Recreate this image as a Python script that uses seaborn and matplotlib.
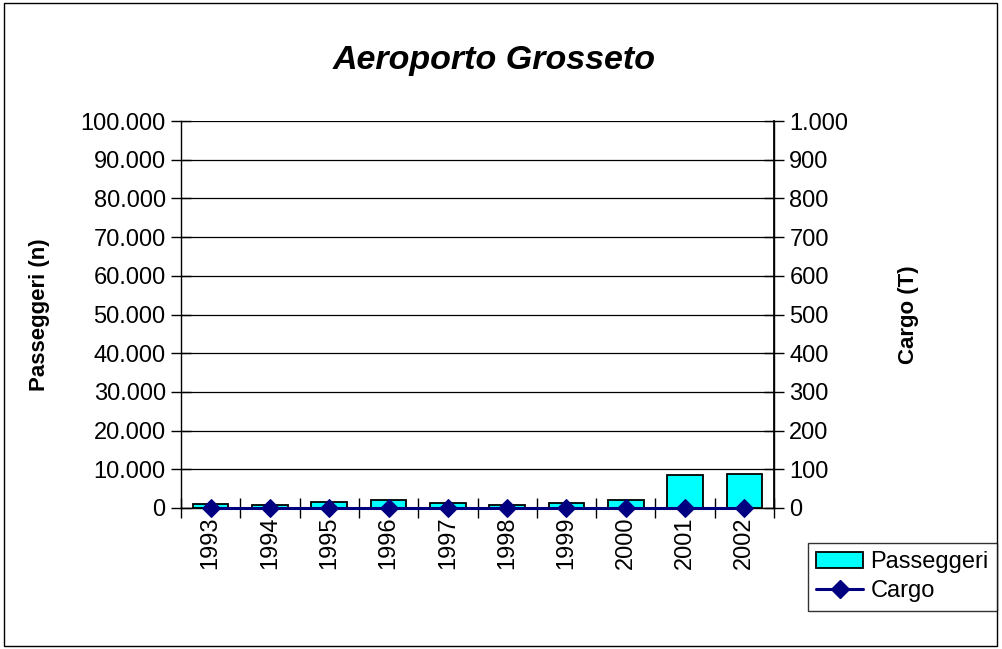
import matplotlib
matplotlib.use("Agg")
import matplotlib.pyplot as plt
import seaborn as sns
import pandas as pd
from matplotlib.ticker import FixedLocator, FuncFormatter
from matplotlib.patches import Rectangle, Patch
from matplotlib.lines import Line2D

years = ["1993", "1994", "1995", "1996", "1997", "1998", "1999", "2000", "2001", "2002"]
passeggeri = [950, 800, 1650, 2000, 1200, 700, 1200, 2000, 8450, 8800]
cargo = [0, 0, 0, 0, 0, 0, 0, 0, 0, 0]
left_ticks = list(range(0, 100001, 10000))
right_ticks = list(range(0, 1001, 100))

sns.set_theme(style="white")
plt.rcParams["font.family"] = ["Liberation Sans", "DejaVu Sans"]
plt.rcParams["text.color"] = "black"
plt.rcParams["axes.labelcolor"] = "black"
plt.rcParams["xtick.color"] = "black"
plt.rcParams["ytick.color"] = "black"

df = pd.DataFrame({"Anno": years, "Passeggeri": passeggeri, "Cargo": cargo})

W, H = 1002, 649
fig = plt.figure(figsize=(W / 100, H / 100), dpi=100)
fig.patch.set_facecolor("white")
fig.patches.append(Rectangle((4 / W, 1 - 646 / H), 993 / W, 643 / H, transform=fig.transFigure,
                             fill=False, edgecolor="black", linewidth=1.0))

ax = fig.add_axes([181 / W, 1 - 508 / H, (774 - 181) / W, (508 - 121) / H])
sns.barplot(data=df, x="Anno", y="Passeggeri", ax=ax, color="#00FFFF", saturation=1,
            edgecolor="black", linewidth=1.3, width=0.6, zorder=3)
ax.set_ylim(0, 100000)
ax.set_xlim(-0.5, len(years) - 0.5)
ax.yaxis.set_major_locator(FixedLocator(left_ticks))
ax.yaxis.set_major_formatter(FuncFormatter(lambda v, p: f"{v:,.0f}".replace(",", ".")))
ax.grid(axis="y", color="black", linewidth=0.9)
ax.grid(axis="x", visible=False)
ax.set_axisbelow(True)
ax.spines["top"].set_visible(False)
for s in ["left", "right", "bottom"]:
    ax.spines[s].set_color("black")
    ax.spines[s].set_linewidth(1.0)
ax.tick_params(axis="y", which="major", direction="inout", length=14, width=1, colors="black",
               labelsize=17, pad=4, left=True)
ax.tick_params(axis="x", which="major", length=0, labelsize=17, labelrotation=90, pad=6,
               labelcolor="black")
ax.set_xticks(range(len(years)))
ax.set_xticks([i - 0.5 for i in range(len(years) + 1)], minor=True)
ax.tick_params(axis="x", which="minor", direction="inout", length=14, width=1, color="black", bottom=True)
ax.set_xlabel("")
ax.set_ylabel("Passeggeri (n)", fontsize=16, fontweight="bold", color="black")
ax.yaxis.set_label_coords(-(181 - 50) / 593, 0.5)

ax2 = ax.twinx()
sns.lineplot(data=df, x="Anno", y="Cargo", ax=ax2, color="#000080", linewidth=2.2,
             marker="D", markersize=9, markeredgecolor="#000080", sort=False, zorder=5)
for ln in ax2.lines:
    ln.set_clip_on(False)
ax2.set_ylim(0, 1000)
ax2.yaxis.set_major_locator(FixedLocator(right_ticks))
ax2.yaxis.set_major_formatter(FuncFormatter(lambda v, p: f"{v:,.0f}".replace(",", ".")))
ax2.tick_params(axis="y", which="major", direction="inout", length=14, width=1, colors="black",
                labelsize=17, pad=4, right=True)
ax2.grid(False)
for s in ["top", "left", "bottom"]:
    ax2.spines[s].set_visible(False)
ax2.spines["right"].set_color("black")
ax2.set_ylabel("Cargo (T)", fontsize=16, fontweight="bold", color="black")
ax2.yaxis.set_label_coords(1 + (898 - 774) / 593, 0.5)
ax2.set_xlim(-0.5, len(years) - 0.5)

fig.text(494 / W, 1 - 60 / H, "Aeroporto Grosseto", ha="center", va="center",
         fontsize=24.5, fontstyle="italic", fontweight="bold", color="black")

handles = [Patch(facecolor="#00FFFF", edgecolor="black", linewidth=1.3),
           Line2D([0], [0], color="#000080", linewidth=2.2, marker="D", markersize=9)]
leg = fig.legend(handles, ["Passeggeri", "Cargo"], loc="upper left",
                 bbox_to_anchor=(808 / W, 1 - 543 / H), fontsize=17, frameon=True,
                 fancybox=False, edgecolor="black", handlelength=2.0, handletextpad=0.3,
                 borderpad=0.35, labelspacing=0.3, borderaxespad=0, labelcolor="black")
leg.get_frame().set_linewidth(1.0)

fig.savefig("out.png", dpi=100, facecolor="white")
